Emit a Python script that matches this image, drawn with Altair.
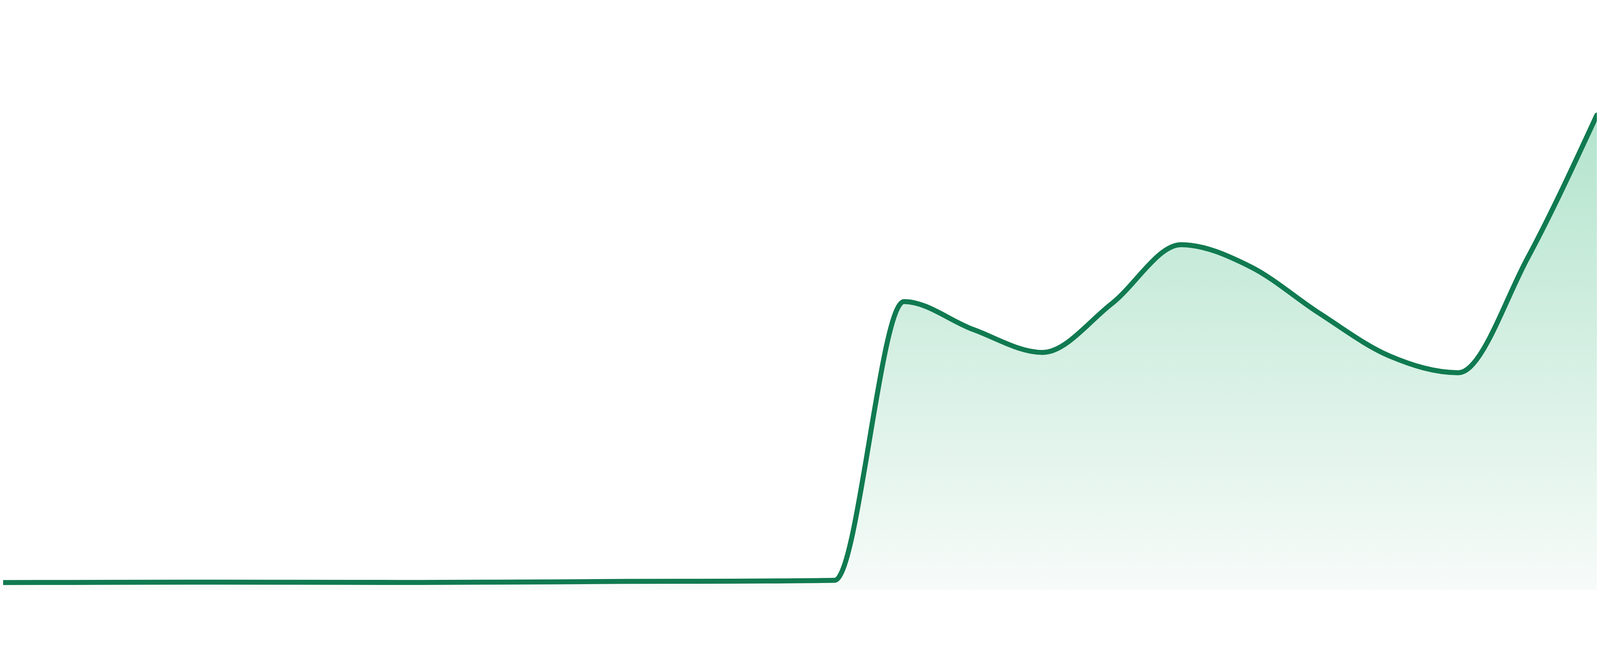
import altair as alt
import pandas as pd

# point index (evenly spaced) and series values
idx = list(range(24))
values = [2.30, 2.33, 2.38, 2.40, 2.38, 2.35, 2.32, 2.40, 2.50, 2.65, 2.68, 2.75,
          2.95, 86.8, 78.4, 71.5, 86.2, 103.9, 97.3, 83.2, 70.5, 65.4, 99.9, 142.9]

df = pd.DataFrame({"i": idx, "v": values})

grad = alt.Gradient(
    gradient="linear",
    stops=[alt.GradientStop(color="#b3e4cd", offset=0),
           alt.GradientStop(color="#f7fbf9", offset=1)],
    x1=0, x2=0, y1=0, y2=1,
)

x = alt.X("i:Q", scale=alt.Scale(domain=[0, 23], nice=False, zero=False), axis=None)
y = alt.Y("v:Q", scale=alt.Scale(domain=[0, 162.4], nice=False), axis=None)

area = alt.Chart(df).mark_area(interpolate="monotone", color=grad).encode(x=x, y=y)
line = alt.Chart(df).mark_line(
    interpolate="monotone", color="#107a50", strokeWidth=15,
    strokeCap="round", strokeJoin="round"
).encode(x=x, y=y)

chart = alt.layer(area, line).properties(
    width=4792, height=1624,
    padding={"left": 0, "top": 0, "right": 0, "bottom": 0},
    autosize=alt.AutoSizeParams(type="none"),
    background="white",
).configure_view(strokeWidth=0)

chart.save("out.html", embed_options={"renderer": "svg", "actions": False})
